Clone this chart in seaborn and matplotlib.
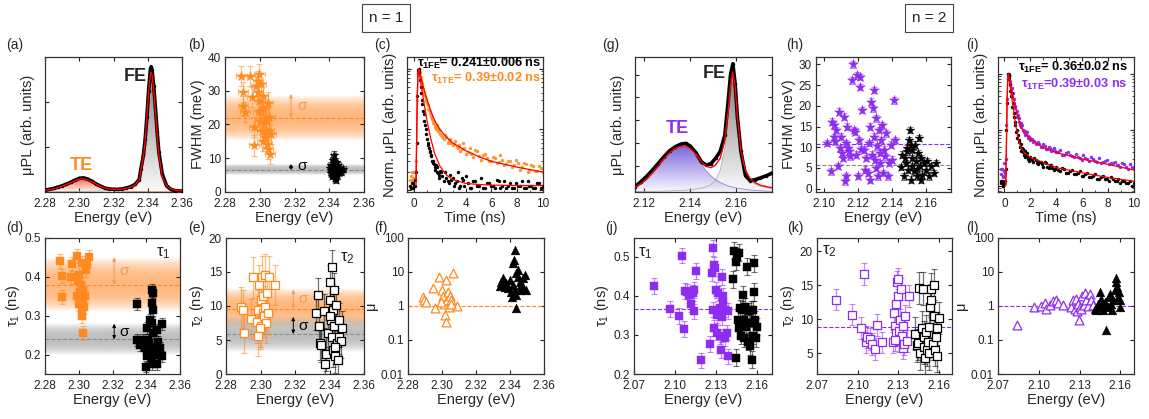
import numpy as np
import matplotlib
matplotlib.use('Agg')
import matplotlib.pyplot as plt
import seaborn as sns
from matplotlib import ticker
from matplotlib.colors import to_rgb

ORANGE = '#ff8a1f'
PURPLE = '#8e2cf2'

# ---------------- n = 1 ----------------
# (a) spectrum
e_a = [2.280, 2.2825, 2.285, 2.2875, 2.290, 2.2925, 2.295, 2.2975, 2.300, 2.3025,
       2.305, 2.3075, 2.310, 2.3125, 2.315, 2.3175, 2.320, 2.3225, 2.325, 2.3275,
       2.330, 2.3325, 2.335, 2.336, 2.3375, 2.3385, 2.3395, 2.3405, 2.3415, 2.342,
       2.3425, 2.3435, 2.3445, 2.3455, 2.3465, 2.3485, 2.351, 2.3535, 2.356, 2.360]
pl_a = [0.02, 0.03, 0.04, 0.055, 0.07, 0.09, 0.11, 0.135, 0.155, 0.16,
        0.145, 0.12, 0.09, 0.065, 0.045, 0.035, 0.03, 0.03, 0.035, 0.045,
        0.06, 0.085, 0.14, 0.26, 0.42, 0.6, 0.85, 1.15, 1.38, 1.42,
        1.38, 1.2, 0.95, 0.68, 0.45, 0.2, 0.07, 0.03, 0.015, 0.01]
fit_a = [0.018, 0.025, 0.035, 0.048, 0.065, 0.085, 0.105, 0.128, 0.145, 0.15,
         0.138, 0.113, 0.088, 0.063, 0.045, 0.034, 0.03, 0.03, 0.034, 0.042,
         0.055, 0.08, 0.13, 0.25, 0.4, 0.58, 0.85, 1.13, 1.33, 1.36,
         1.33, 1.15, 0.9, 0.64, 0.42, 0.17, 0.07, 0.035, 0.02, 0.014]
te_a = [0.012, 0.018, 0.026, 0.036, 0.05, 0.068, 0.09, 0.115, 0.133, 0.138,
        0.127, 0.103, 0.078, 0.055, 0.037, 0.025, 0.018, 0.014, 0.011, 0.009,
        0.008, 0.007, 0.006, 0.005, 0.005, 0.004, 0.004, 0.004, 0.004, 0.004,
        0.003, 0.003, 0.003, 0.003, 0.003, 0.003, 0.002, 0.002, 0.002, 0.002]
fe_a = [0.002, 0.002, 0.003, 0.003, 0.004, 0.004, 0.005, 0.006, 0.007, 0.008,
        0.009, 0.01, 0.011, 0.012, 0.014, 0.016, 0.018, 0.021, 0.025, 0.032,
        0.045, 0.07, 0.12, 0.24, 0.39, 0.57, 0.84, 1.12, 1.32, 1.35,
        1.32, 1.14, 0.89, 0.63, 0.41, 0.16, 0.06, 0.03, 0.017, 0.012]

# (b) FWHM
b_te_e = [2.2894, 2.2905, 2.2905, 2.2915, 2.2942, 2.2955, 2.2966, 2.2966, 2.2979, 2.2989,
          2.2998, 2.2998, 2.3002, 2.3008, 2.3013, 2.3017, 2.3021, 2.3026, 2.3032, 2.3036,
          2.3040, 2.3045, 2.3045, 2.3051, 2.3055, 2.3060, 2.3064, 2.2989, 2.3008, 2.3017, 2.2994]
b_te_w = [34.4, 29.5, 25.5, 23.6, 34.4, 28.2, 19.2, 13.8, 31.4, 29.5,
          34.9, 27.0, 21.1, 23.6, 18.2, 15.2, 25.0, 20.1, 16.2, 21.6,
          14.3, 26.5, 12.8, 18.2, 22.1, 11.3, 17.2, 32.9, 31.9, 28.5, 24.1]
b_fe_e = [2.3425, 2.342, 2.341, 2.343, 2.344, 2.3445, 2.342, 2.343, 2.3435, 2.341,
          2.345, 2.346, 2.3405, 2.3438, 2.3428, 2.3442, 2.3455, 2.3418, 2.3432, 2.3448,
          2.347, 2.348, 2.3412, 2.3436]
b_fe_w = [11.0, 9.5, 8.0, 7.5, 7.0, 6.0, 5.5, 5.0, 4.2, 6.5,
          8.0, 6.5, 7.0, 9.0, 6.2, 5.2, 5.8, 4.8, 8.5, 7.2,
          6.0, 6.8, 5.5, 3.6]
b_mean = [22.0, 6.5]
b_sigma = [6.8, 1.6]

# (c) decay n=1
t_grid = [-0.3, -0.2, -0.1, 0.0, 0.1, 0.2, 0.25, 0.3, 0.35, 0.4,
          0.45, 0.5, 0.6, 0.7, 0.8, 0.9, 1.0, 1.1, 1.2, 1.3,
          1.4, 1.5, 1.6, 1.7, 1.8, 1.9, 2.0, 2.2, 2.4, 2.6,
          2.8, 3.0, 3.2, 3.4, 3.6, 3.8, 4.0, 4.3, 4.6, 4.9,
          5.2, 5.5, 5.8, 6.1, 6.4, 6.7, 7.0, 7.3, 7.6, 7.9,
          8.2, 8.5, 8.8, 9.1, 9.4, 9.7, 10.0]
t_grid2 = [-0.25, -0.15, -0.05, 0.05, 0.15, 0.32, 0.38, 0.55, 0.65, 0.75,
           0.85, 0.95, 1.05, 1.15, 1.25, 1.35, 1.45, 1.55, 1.65, 1.75,
           1.85, 1.95, 2.1, 2.3, 2.5, 2.7, 2.9, 3.1, 3.3, 3.5,
           3.7, 3.9, 4.15, 4.45, 4.75, 5.05, 5.35, 5.65, 5.95, 6.25,
           6.55, 6.85, 7.15, 7.45, 7.75, 8.05, 8.35, 8.65, 8.95, 9.25,
           9.55, 9.85]
c_fe = [0.012, 0.011, 0.013, 0.012, 0.015, 0.06, 0.35, 0.85, 1.0, 0.85,
        0.65, 0.5, 0.3, 0.2, 0.14, 0.1, 0.07, 0.055, 0.045, 0.038,
        0.03, 0.028, 0.024, 0.026, 0.02, 0.018, 0.021, 0.017, 0.02, 0.014,
        0.018, 0.016, 0.013, 0.02, 0.012, 0.015, 0.017, 0.011, 0.014, 0.012,
        0.016, 0.011, 0.013, 0.012, 0.015, 0.011, 0.014, 0.012, 0.011, 0.013,
        0.012, 0.011, 0.014, 0.012, 0.011, 0.013, 0.012]
c_fe2 = [0.011, 0.013, 0.011, 0.012, 0.02, 0.95, 0.9, 0.4, 0.26, 0.18,
         0.12, 0.085, 0.06, 0.05, 0.042, 0.036, 0.03, 0.027, 0.022, 0.024,
         0.019, 0.016, 0.02, 0.014, 0.016, 0.013, 0.015, 0.012, 0.014, 0.011,
         0.016, 0.012, 0.013, 0.011, 0.014, 0.012, 0.011, 0.013, 0.012, 0.011,
         0.014, 0.012, 0.011, 0.013, 0.011, 0.012, 0.014, 0.011, 0.012, 0.011,
         0.013, 0.011]
c_te = [0.015, 0.02, 0.016, 0.015, 0.02, 0.06, 0.3, 0.8, 1.0, 0.95,
        0.85, 0.72, 0.58, 0.47, 0.38, 0.32, 0.27, 0.22, 0.2, 0.17,
        0.15, 0.13, 0.12, 0.1, 0.11, 0.09, 0.085, 0.075, 0.08, 0.06,
        0.07, 0.055, 0.065, 0.05, 0.045, 0.06, 0.04, 0.05, 0.035, 0.045,
        0.032, 0.04, 0.03, 0.035, 0.028, 0.038, 0.026, 0.03, 0.024, 0.032,
        0.022, 0.028, 0.02, 0.026, 0.021, 0.025, 0.02]
c_te2 = [0.017, 0.015, 0.02, 0.016, 0.03, 0.9, 0.98, 0.65, 0.52, 0.42,
         0.35, 0.29, 0.25, 0.21, 0.19, 0.16, 0.14, 0.13, 0.11, 0.12,
         0.095, 0.1, 0.08, 0.07, 0.075, 0.065, 0.06, 0.058, 0.052, 0.055,
         0.048, 0.05, 0.042, 0.04, 0.046, 0.036, 0.038, 0.034, 0.03, 0.034,
         0.029, 0.031, 0.027, 0.03, 0.026, 0.028, 0.024, 0.027, 0.022, 0.025,
         0.021, 0.023]
fit_t = [0.15, 0.25, 0.3, 0.35, 0.45, 0.6, 0.8, 1.0, 1.3, 1.6, 2.0, 2.5, 3.0, 4.0, 5.0, 6.0, 8.0, 10.0]
c_fit_fe = [0.012, 0.4, 0.85, 1.0, 0.72, 0.45, 0.25, 0.14, 0.07, 0.04, 0.025, 0.018, 0.015, 0.013, 0.0125, 0.0122, 0.012, 0.012]
c_fit_te = [0.015, 0.35, 0.8, 1.0, 0.85, 0.62, 0.43, 0.31, 0.2, 0.14, 0.1, 0.075, 0.06, 0.045, 0.036, 0.03, 0.024, 0.02]

# (d) tau1 n=1
d_te_e = [2.2889, 2.2903, 2.2899, 2.2952, 2.2958, 2.2988, 2.2994, 2.3002, 2.3007, 2.3017,
          2.3023, 2.3027, 2.3017, 2.3021, 2.3023, 2.3037, 2.3043, 2.3051, 2.3063, 2.2992,
          2.3004, 2.3013, 2.3031]
d_te_t = [0.44, 0.403, 0.348, 0.40, 0.433, 0.453, 0.39, 0.406, 0.359, 0.436,
          0.367, 0.337, 0.316, 0.299, 0.257, 0.352, 0.419, 0.431, 0.45, 0.352,
          0.331, 0.38, 0.324]
d_fe_e = [2.3347, 2.3432, 2.3442, 2.3432, 2.3442, 2.3423, 2.3432, 2.3492, 2.3403, 2.3413,
          2.3442, 2.3462, 2.3383, 2.3344, 2.3364, 2.3393, 2.3423, 2.3452, 2.3482, 2.3403,
          2.3432, 2.3462, 2.3492, 2.3399, 2.3432, 2.3462, 2.3419, 2.3446, 2.3472]
d_fe_t = [0.331, 0.367, 0.36, 0.333, 0.316, 0.29, 0.281, 0.28, 0.269, 0.239,
          0.256, 0.264, 0.239, 0.239, 0.226, 0.217, 0.213, 0.221, 0.217, 0.196,
          0.196, 0.2, 0.196, 0.17, 0.177, 0.177, 0.23, 0.209, 0.234]
d_mean = [0.38, 0.24]
d_sigma = [0.07, 0.04]

# (e) tau2 n=1
e_te_e = [2.2885, 2.2898, 2.2902, 2.2946, 2.2955, 2.2980, 2.2984, 2.2987, 2.2993, 2.3000,
          2.3004, 2.3009, 2.3013, 2.3017, 2.3021, 2.3025, 2.3027, 2.3031, 2.3040, 2.3046,
          2.3050, 2.3084, 2.2998]
e_te_t = [9.8, 9.4, 6.1, 8.1, 14.2, 7.6, 5.6, 9.4, 13.1, 10.9,
          7.0, 14.3, 8.9, 11.4, 8.5, 14.6, 9.9, 7.5, 11.9, 8.9,
          14.3, 13.1, 6.7]
e_fe_e = [2.3334, 2.3320, 2.3337, 2.3343, 2.3352, 2.3371, 2.3381, 2.3390, 2.3400, 2.3405,
          2.3409, 2.3413, 2.3415, 2.3419, 2.3423, 2.3428, 2.3432, 2.3438, 2.3441, 2.3447,
          2.3453, 2.3457, 2.3375, 2.3466, 2.3475, 2.3425, 2.3400, 2.3434]
e_fe_t = [11.6, 8.9, 7.0, 4.5, 4.3, 9.2, 3.0, 6.0, 13.6, 10.9,
          8.0, 15.8, 5.5, 9.4, 3.5, 7.0, 2.6, 10.2, 4.5, 2.1,
          8.0, 5.5, 1.4, 4.8, 6.7, 12.3, 8.5, 4.0]
e_mean = [9.6, 5.9]
e_sigma = [2.9, 2.6]

# (f) mu n=1
f_te_e = [2.2888, 2.2892, 2.2904, 2.2947, 2.2957, 2.2982, 2.3002, 2.3006, 2.3012, 2.3016,
          2.3022, 2.3025, 2.3029, 2.3035, 2.3041, 2.3045, 2.3051, 2.3065, 2.3088, 2.2996, 2.3055]
f_te_mu = [1.79, 1.5, 1.33, 3.45, 0.85, 7.3, 2.95, 1.97, 1.11, 0.53,
           0.34, 5.9, 1.55, 2.6, 0.95, 1.97, 1.5, 9.6, 0.99, 1.33, 1.11]
f_fe_e = [2.3427, 2.3423, 2.3418, 2.3437, 2.3437, 2.3412, 2.3349, 2.3339, 2.3359, 2.3378,
          2.3398, 2.3418, 2.3447, 2.3457, 2.3467, 2.3476, 2.3486, 2.3496, 2.3427, 2.3408,
          2.3388, 2.3369, 2.3457, 2.3437, 2.3476, 2.3447]
f_fe_mu = [45.0, 22.8, 18.2, 9.2, 0.85, 1.79, 5.2, 3.9, 6.6, 4.6,
           5.9, 4.1, 7.3, 5.2, 4.1, 6.6, 8.2, 2.95, 2.95, 2.6,
           3.3, 3.7, 2.95, 2.1, 3.7, 11.5]

# ---------------- n = 2 ----------------
# (g) spectrum
e_g = [2.116, 2.1185, 2.121, 2.1235, 2.126, 2.1285, 2.131, 2.1335, 2.136, 2.138,
       2.140, 2.1425, 2.145, 2.147, 2.149, 2.151, 2.153, 2.155, 2.1565, 2.1575,
       2.1585, 2.1595, 2.1605, 2.162, 2.164, 2.166, 2.168, 2.1705, 2.173, 2.1755]
pl_g = [0.04, 0.075, 0.115, 0.16, 0.21, 0.26, 0.305, 0.335, 0.355, 0.36,
        0.34, 0.29, 0.22, 0.2, 0.21, 0.25, 0.3, 0.42, 0.68, 0.87,
        0.95, 0.8, 0.55, 0.3, 0.12, 0.085, 0.09, 0.105, 0.12, 0.14]
fit_g = [0.035, 0.06, 0.095, 0.14, 0.19, 0.245, 0.29, 0.325, 0.34, 0.34,
         0.32, 0.28, 0.22, 0.19, 0.18, 0.2, 0.25, 0.38, 0.6, 0.8,
         0.89, 0.78, 0.55, 0.3, 0.16, 0.1, 0.07, 0.05, 0.04, 0.032]
te_g = [0.032, 0.055, 0.09, 0.135, 0.185, 0.24, 0.285, 0.32, 0.335, 0.333,
        0.31, 0.26, 0.2, 0.155, 0.12, 0.09, 0.07, 0.055, 0.045, 0.04,
        0.036, 0.032, 0.028, 0.024, 0.019, 0.015, 0.012, 0.009, 0.007, 0.005]
fe_g = [0.003, 0.004, 0.005, 0.005, 0.006, 0.007, 0.008, 0.01, 0.012, 0.014,
        0.017, 0.022, 0.03, 0.04, 0.055, 0.09, 0.16, 0.32, 0.55, 0.76,
        0.85, 0.75, 0.52, 0.28, 0.14, 0.085, 0.06, 0.042, 0.033, 0.027]

# (h) FWHM n=2
h_te_e = [2.1020, 2.1044, 2.1050, 2.1060, 2.1063, 2.1069, 2.1075, 2.1083, 2.1089, 2.1095,
          2.1103, 2.1108, 2.1114, 2.1122, 2.1128, 2.1132, 2.1134, 2.1138, 2.1144, 2.1148,
          2.1158, 2.1167, 2.1173, 2.1181, 2.1187, 2.1193, 2.1197, 2.1201, 2.1207, 2.1212,
          2.1216, 2.1220, 2.1228, 2.1236, 2.1246, 2.1252, 2.1260, 2.1266, 2.1272, 2.1275,
          2.1279, 2.1285, 2.1291, 2.1295, 2.1299, 2.1303, 2.1307, 2.1311, 2.1315, 2.1319,
          2.1324, 2.1330, 2.1334, 2.1340, 2.1346, 2.1350, 2.1354, 2.1364, 2.1370, 2.1378,
          2.1384, 2.1413, 2.1423, 2.1394, 2.1403]
h_te_w = [11.0, 4.2, 16.2, 15.4, 12.4, 11.4, 14.2, 5.5, 18.6, 9.8,
          12.6, 8.6, 7.4, 17.4, 1.8, 3.0, 11.0, 15.0, 9.8, 9.0,
          7.8, 26.2, 30.0, 14.2, 13.8, 8.2, 27.4, 3.1, 11.8, 27.0,
          24.6, 9.6, 19.0, 9.4, 4.6, 7.4, 3.8, 11.0, 15.0, 2.2,
          21.0, 8.2, 19.4, 23.8, 12.6, 7.0, 17.0, 5.0, 10.2, 3.0,
          14.2, 8.6, 6.2, 11.8, 15.4, 3.8, 9.4, 7.8, 13.4, 3.0,
          6.2, 21.3, 11.8, 10.6, 7.0]
h_fe_e = [2.1453, 2.1463, 2.1473, 2.1483, 2.1488, 2.1496, 2.1502, 2.1508, 2.1512, 2.1518,
          2.1523, 2.1531, 2.1537, 2.1543, 2.1551, 2.1555, 2.1561, 2.1567, 2.1575, 2.1581,
          2.1591, 2.1601, 2.1610, 2.1620, 2.1630, 2.1649, 2.1659, 2.1477, 2.1492, 2.1521,
          2.1547, 2.1571, 2.1516]
h_fe_w = [5.2, 8.2, 3.0, 6.2, 9.8, 4.6, 11.8, 14.2, 2.2, 7.4,
          9.4, 4.2, 10.6, 6.6, 3.0, 8.6, 12.2, 5.4, 7.4, 3.4,
          6.2, 4.6, 6.6, 3.0, 5.4, 3.8, 6.2, 7.4, 9.0, 5.4,
          4.8, 2.2, 10.6]
h_mean = [10.9, 5.8]

# (i) decay n=2
i_fe = [0.011, 0.012, 0.010, 0.011, 0.02, 0.3, 0.8, 1.0, 0.85, 0.65,
        0.5, 0.4, 0.25, 0.17, 0.12, 0.09, 0.07, 0.06, 0.05, 0.042,
        0.045, 0.036, 0.033, 0.038, 0.03, 0.028, 0.033, 0.026, 0.029, 0.024,
        0.027, 0.022, 0.025, 0.021, 0.023, 0.019, 0.022, 0.018, 0.02, 0.017,
        0.019, 0.016, 0.018, 0.015, 0.017, 0.014, 0.016, 0.013, 0.015, 0.013,
        0.014, 0.012, 0.013, 0.012, 0.011, 0.012, 0.011]
i_fe2 = [0.012, 0.01, 0.011, 0.012, 0.1, 0.95, 0.9, 0.45, 0.3, 0.2,
         0.14, 0.1, 0.08, 0.065, 0.055, 0.048, 0.04, 0.042, 0.035, 0.038,
         0.032, 0.03, 0.029, 0.031, 0.025, 0.027, 0.024, 0.026, 0.022, 0.023,
         0.021, 0.02, 0.019, 0.021, 0.017, 0.018, 0.016, 0.017, 0.015, 0.016,
         0.014, 0.015, 0.013, 0.014, 0.013, 0.012, 0.013, 0.012, 0.011, 0.012,
         0.011, 0.01]
i_te = [0.016, 0.02, 0.014, 0.018, 0.03, 0.35, 0.85, 1.0, 0.9, 0.75,
        0.62, 0.52, 0.38, 0.3, 0.24, 0.2, 0.17, 0.14, 0.12, 0.11,
        0.1, 0.09, 0.08, 0.085, 0.07, 0.075, 0.065, 0.06, 0.055, 0.06,
        0.05, 0.055, 0.045, 0.05, 0.042, 0.047, 0.04, 0.044, 0.036, 0.04,
        0.034, 0.037, 0.031, 0.035, 0.03, 0.033, 0.028, 0.031, 0.026, 0.029,
        0.025, 0.027, 0.023, 0.025, 0.022, 0.024, 0.021]
i_te2 = [0.02, 0.015, 0.025, 0.017, 0.12, 0.98, 0.95, 0.55, 0.45, 0.35,
         0.27, 0.22, 0.18, 0.16, 0.13, 0.12, 0.1, 0.095, 0.088, 0.09,
         0.078, 0.07, 0.068, 0.062, 0.058, 0.055, 0.05, 0.052, 0.045, 0.048,
         0.043, 0.041, 0.04, 0.036, 0.038, 0.035, 0.033, 0.032, 0.029, 0.031,
         0.028, 0.03, 0.027, 0.025, 0.028, 0.024, 0.025, 0.023, 0.022, 0.024,
         0.02, 0.022]
i_fit_t = [0.1, 0.2, 0.25, 0.3, 0.4, 0.5, 0.7, 0.9, 1.1, 1.3, 1.6, 2.0, 3.0, 4.0, 6.0, 8.0, 10.0]
i_fit_fe = [0.01, 0.3, 0.85, 1.0, 0.7, 0.48, 0.22, 0.11, 0.065, 0.045, 0.038, 0.032, 0.026, 0.021, 0.017, 0.014, 0.012]
i_fit_te = [0.01, 0.3, 0.85, 1.0, 0.8, 0.6, 0.36, 0.22, 0.15, 0.11, 0.085, 0.068, 0.048, 0.039, 0.03, 0.024, 0.019]

# (j) tau1 n=2
j_te_e = [2.0845, 2.0967, 2.1031, 2.1053, 2.1066, 2.1073, 2.1090, 2.1105, 2.1115, 2.1129,
          2.1139, 2.1142, 2.1154, 2.1190, 2.1257, 2.1269, 2.1276, 2.1281, 2.1286, 2.1294,
          2.1301, 2.1306, 2.1311, 2.1318, 2.1326, 2.1331, 2.1336, 2.1341, 2.1346, 2.1350,
          2.1355, 2.1363, 2.1368, 2.1380, 2.1387, 2.1385, 2.1286]
j_te_t = [0.425, 0.366, 0.349, 0.503, 0.315, 0.413, 0.411, 0.402, 0.378, 0.408,
          0.415, 0.36, 0.463, 0.235, 0.277, 0.458, 0.365, 0.523, 0.479, 0.47,
          0.415, 0.351, 0.306, 0.406, 0.37, 0.296, 0.262, 0.449, 0.345, 0.381,
          0.4, 0.292, 0.365, 0.306, 0.245, 0.362, 0.317]
j_fe_e = [2.1424, 2.1429, 2.1446, 2.1453, 2.1470, 2.1446, 2.1458, 2.1466, 2.1478, 2.1483,
          2.1490, 2.1498, 2.1502, 2.1507, 2.1515, 2.1520, 2.1527, 2.1532, 2.1539, 2.1547,
          2.1552, 2.1559, 2.1564, 2.1569, 2.1576, 2.1581, 2.1588, 2.1596, 2.1600, 2.1571]
j_fe_t = [0.442, 0.515, 0.487, 0.5, 0.51, 0.242, 0.338, 0.317, 0.368, 0.298,
          0.364, 0.402, 0.338, 0.292, 0.372, 0.321, 0.475, 0.283, 0.36, 0.33,
          0.271, 0.364, 0.237, 0.298, 0.41, 0.483, 0.338, 0.292, 0.321, 0.364]
j_mean = 0.367

# (k) tau2 n=2
k_te_e = [2.0839, 2.0962, 2.1025, 2.1047, 2.1062, 2.1072, 2.1091, 2.1108, 2.1128, 2.1147,
          2.1184, 2.1262, 2.1270, 2.1275, 2.1282, 2.1287, 2.1292, 2.1297, 2.1302, 2.1306,
          2.1311, 2.1316, 2.1323, 2.1330, 2.1335, 2.1340, 2.1347, 2.1355, 2.1365, 2.1379, 2.1275]
k_te_t = [12.9, 10.7, 8.7, 16.7, 6.6, 7.4, 7.1, 6.4, 5.7, 9.2,
          6.6, 6.6, 11.0, 9.0, 8.0, 12.3, 15.5, 13.5, 16.0, 8.3,
          6.8, 9.9, 14.5, 7.5, 5.8, 9.0, 6.4, 10.5, 6.8, 13.4, 7.0]
k_fe_e = [2.1429, 2.1438, 2.1450, 2.1458, 2.1465, 2.1477, 2.1482, 2.1490, 2.1495, 2.1502,
          2.1507, 2.1514, 2.1519, 2.1526, 2.1531, 2.1538, 2.1543, 2.1548, 2.1556, 2.1563,
          2.1568, 2.1575, 2.1580, 2.1587, 2.1592, 2.1600]
k_fe_t = [7.9, 6.2, 6.5, 14.6, 5.0, 8.8, 14.5, 5.9, 7.4, 4.3,
          8.2, 5.5, 6.7, 8.9, 5.0, 11.8, 12.8, 14.4, 6.4, 10.5,
          15.0, 5.5, 7.4, 8.7, 4.6, 10.2]
k_mean = 8.9

# (l) mu n=2
l_te_e = [2.0840, 2.0962, 2.1019, 2.1043, 2.1056, 2.1080, 2.1105, 2.1124, 2.1142, 2.1178,
          2.1240, 2.1252, 2.1265, 2.1277, 2.1281, 2.1289, 2.1296, 2.1301, 2.1313, 2.1321,
          2.1331, 2.1343, 2.1350, 2.1363, 2.1380, 2.1387, 2.1400]
l_te_mu = [0.27, 0.91, 0.99, 1.24, 0.81, 1.05, 1.42, 1.55, 1.24, 1.05,
           0.94, 1.48, 0.80, 1.66, 0.71, 1.18, 0.40, 0.94, 0.80, 1.95,
           1.05, 2.45, 1.48, 0.99, 2.25, 1.48, 1.05]
l_fe_e = [2.1411, 2.1424, 2.1436, 2.1448, 2.1456, 2.1465, 2.1473, 2.1485, 2.1497, 2.1510,
          2.1517, 2.1527, 2.1534, 2.1541, 2.1546, 2.1559, 2.1566, 2.1571, 2.1578, 2.1583,
          2.1590, 2.1595, 2.1600, 2.1443, 2.1478]
l_fe_mu = [0.80, 0.76, 1.18, 2.6, 1.66, 1.05, 0.76, 1.33, 0.20, 0.94,
           1.86, 2.33, 1.18, 0.76, 1.48, 2.9, 6.8, 5.2, 3.7, 1.86,
           2.6, 1.48, 0.94, 0.94, 1.05]

# ---------------- drawing ----------------
sns.set_theme(style='ticks')
plt.rcParams['font.family'] = ['Liberation Sans', 'DejaVu Sans']
plt.rcParams['mathtext.fontset'] = 'custom'
plt.rcParams['mathtext.rm'] = 'Liberation Sans'
plt.rcParams['mathtext.it'] = 'Liberation Sans:italic'
plt.rcParams['mathtext.bf'] = 'Liberation Sans:bold'

W, H = 1149, 419
fig = plt.figure(figsize=(W / 100, H / 100), dpi=100)


def mk(l, t, r, b):
    ax = fig.add_axes([l / W, 1 - b / H, (r - l) / W, (b - t) / H])
    ax.tick_params(direction='in', top=True, right=True, labelsize=8.5, length=3,
                   width=0.8, colors='#222222')
    ax.tick_params(axis='x', pad=4)
    ax.tick_params(axis='y', pad=3)
    ax.tick_params(which='minor', direction='in', top=True, right=True, length=1.8, width=0.6)
    for s in ax.spines.values():
        s.set_linewidth(0.9)
        s.set_color('#333333')
    return ax


def grad_fill(ax, x, y, color, a_top, a_bot=0.03):
    x = np.asarray(x)
    y = np.asarray(y)
    poly = ax.fill_between(x, 0, y, facecolor='none', edgecolor='none')
    rgba = np.ones((128, 1, 4))
    rgba[:, 0, :3] = to_rgb(color)
    rgba[:, 0, 3] = np.linspace(a_bot, a_top, 128)
    im = ax.imshow(rgba, extent=[x.min(), x.max(), 0, y.max()], origin='lower',
                   aspect='auto', zorder=1, interpolation='bilinear')
    im.set_clip_path(poly.get_paths()[0], transform=ax.transData)


def band(ax, x0, x1, mean, sig, color, amax):
    u = np.linspace(-1, 1, 128)
    rgba = np.ones((128, 1, 4))
    rgba[:, 0, :3] = to_rgb(color)
    rgba[:, 0, 3] = amax * (1 - np.abs(u) ** 2.5)
    ax.imshow(rgba, extent=[x0, x1, mean - sig, mean + sig], origin='lower',
              aspect='auto', zorder=0, interpolation='bilinear')
    ax.axhline(mean, color=color, ls='--', lw=0.8, zorder=1)


def pts(ax, x, y, color, marker, s, yerr=None, xerr=None, filled=True, ealpha=0.55):
    if yerr is not None or xerr is not None:
        ax.errorbar(x, y, yerr=yerr, xerr=xerr, fmt='none', ecolor=color, alpha=ealpha,
                    elinewidth=0.9, capsize=2.5, capthick=0.8, zorder=2)
    sns.scatterplot(x=x, y=y, ax=ax, marker=marker, s=s,
                    color=color if filled else 'white', edgecolor=color,
                    linewidth=0.9 if not filled else 0.3, zorder=3, legend=False)


def sigma_arrow(ax, x, y0, y1, color, tx, ty):
    ax.annotate('', xy=(x, y1), xytext=(x, y0),
                arrowprops=dict(arrowstyle='<|-|>', color=color, lw=0.7,
                                shrinkA=0, shrinkB=0, mutation_scale=5))
    ax.text(tx, ty, 'σ', color=color, fontsize=11, va='center', ha='left')


def energy_axis(ax, lo, hi, ticks):
    ax.set_xlim(lo, hi)
    ax.set_xticks(ticks)
    ax.xaxis.set_major_formatter(ticker.FormatStrFormatter('%.2f'))
    ax.set_xlabel('Energy (eV)', fontsize=10.5, labelpad=1)


def spectrum(ax, e, pl, fit, te, fe, te_col, te_alpha):
    grad_fill(ax, e, fe, '#6e6e6e', 0.85)
    grad_fill(ax, e, te, te_col, te_alpha)
    sns.lineplot(x=e, y=fe, ax=ax, color='#b0b0b0', lw=0.6, zorder=2)
    sns.lineplot(x=e, y=te, ax=ax, color=te_col, lw=0.6, alpha=0.6, zorder=2)
    sns.lineplot(x=e, y=pl, ax=ax, color='black', lw=2.6, marker='o', markersize=2.5,
                 markeredgewidth=0, zorder=3)
    sns.lineplot(x=e, y=fit, ax=ax, color='red', lw=1.0, zorder=4)
    ax.set_ylabel('μPL (arb. units)', fontsize=10.5, labelpad=4)


def decay(ax, t, fe, te, t2, fe2, te2, ft, ffe, fte, col, ylo, yhi, xlo):
    sns.scatterplot(x=t, y=te, ax=ax, color=col, s=6, linewidth=0, zorder=2, legend=False)
    sns.scatterplot(x=t2, y=te2, ax=ax, color=col, s=6, linewidth=0, zorder=2, legend=False)
    sns.scatterplot(x=t, y=fe, ax=ax, color='black', s=6, linewidth=0, zorder=3, legend=False)
    sns.scatterplot(x=t2, y=fe2, ax=ax, color='black', s=6, linewidth=0, zorder=3, legend=False)
    sns.lineplot(x=ft, y=ffe, ax=ax, color='red', lw=0.9, zorder=4)
    sns.lineplot(x=ft, y=fte, ax=ax, color='red', lw=0.9, zorder=4)
    ax.set_yscale('log')
    ax.set_ylim(ylo, yhi)
    ax.set_xlim(xlo, 10)
    ax.xaxis.set_major_locator(ticker.MultipleLocator(2))
    ax.xaxis.set_minor_locator(ticker.MultipleLocator(1))
    ax.yaxis.set_major_formatter(ticker.NullFormatter())
    ax.yaxis.set_minor_formatter(ticker.NullFormatter())
    ax.set_xlabel('Time (ns)', fontsize=10.5, labelpad=1)
    ax.set_ylabel('Norm. μPL (arb. units)', fontsize=10.5, labelpad=4)


def mu_axis(ax):
    ax.set_yscale('log')
    ax.set_ylim(0.01, 100)
    ax.set_yticks([0.01, 0.1, 1, 10, 100])
    ax.set_yticklabels(['0.01', '0.1', '1', '10', '100'])
    ax.yaxis.set_minor_locator(ticker.NullLocator())
    ax.set_ylabel('μ', fontsize=10.5, labelpad=2)


# (a)
ax = mk(45, 57, 182, 192)
spectrum(ax, e_a, pl_a, fit_a, te_a, fe_a, '#e8451c', 0.75)
ax.set_ylim(0, 1.53)
ax.set_yticks([0.51, 1.02])
ax.set_yticklabels([])
energy_axis(ax, 2.28, 2.36, [2.28, 2.30, 2.32, 2.34, 2.36])
ax.text(2.333, 1.31, 'FE', fontsize=13, fontweight='bold', ha='center', va='center')
ax.text(2.301, 0.3, 'TE', fontsize=13, fontweight='bold', color=ORANGE, ha='center', va='center')

# (b)
ax = mk(225, 57, 364, 192)
band(ax, 2.28, 2.36, b_mean[0], b_sigma[0], '#ff8a2a', 0.6)
band(ax, 2.28, 2.36, b_mean[1], b_sigma[1], '#8a8a8a', 0.55)
pts(ax, b_te_e, b_te_w, ORANGE, '*', 55, yerr=3.0, xerr=0.003)
pts(ax, b_fe_e, b_fe_w, 'black', '*', 45, yerr=1.0, xerr=0.0015)
sigma_arrow(ax, 2.318, 22, 29, '#f39a55', 2.3215, 25.5)
sigma_arrow(ax, 2.318, 6.5, 8.3, 'black', 2.3215, 7.6)
energy_axis(ax, 2.28, 2.36, [2.28, 2.30, 2.32, 2.34, 2.36])
ax.set_ylim(0, 40)
ax.set_yticks([0, 10, 20, 30, 40])
ax.set_ylabel('FWHM (meV)', fontsize=10.5, labelpad=2)

# (c)
ax = mk(407, 57, 543, 192)
decay(ax, t_grid, c_fe, c_te, t_grid2, c_fe2, c_te2, fit_t, c_fit_fe, c_fit_te,
      '#ff9633', 0.0094, 1.55, -0.55)
ax.text(0.985, 0.95, 'τ$_{\\mathbf{1FE}}$= 0.241±0.006 ns', transform=ax.transAxes,
        ha='right', va='center', fontsize=9.2, fontweight='bold', color='black')
ax.text(0.985, 0.84, 'τ$_{\\mathbf{1TE}}$= 0.39±0.02 ns', transform=ax.transAxes,
        ha='right', va='center', fontsize=9.2, fontweight='bold', color=ORANGE)

# (d)
ax = mk(45, 238, 180, 374)
band(ax, 2.28, 2.36, d_mean[0], d_sigma[0], '#ff8a2a', 0.6)
band(ax, 2.28, 2.36, d_mean[1], d_sigma[1], '#8a8a8a', 0.55)
pts(ax, d_te_e, d_te_t, ORANGE, 's', 28, yerr=0.018, xerr=0.001)
pts(ax, d_fe_e, d_fe_t, 'black', 's', 28, yerr=0.015, xerr=0.001)
sigma_arrow(ax, 2.321, 0.38, 0.45, '#f39a55', 2.324, 0.415)
sigma_arrow(ax, 2.321, 0.24, 0.28, 'black', 2.324, 0.26)
energy_axis(ax, 2.28, 2.36, [2.28, 2.30, 2.32, 2.34, 2.36])
ax.set_ylim(0.151, 0.5)
ax.set_yticks([0.2, 0.3, 0.4, 0.5])
ax.set_ylabel('τ$_1$ (ns)', fontsize=10.5, labelpad=2)
ax.text(0.88, 0.89, 'τ$_1$', transform=ax.transAxes, fontsize=12, ha='center', va='center')

# (e)
ax = mk(226, 238, 364, 374)
band(ax, 2.28, 2.36, e_mean[0], e_sigma[0], '#ff8a2a', 0.6)
band(ax, 2.28, 2.36, e_mean[1], e_sigma[1], '#8a8a8a', 0.55)
pts(ax, e_te_e, e_te_t, ORANGE, 's', 28, yerr=3.0, xerr=0.002, filled=False)
pts(ax, e_fe_e, e_fe_t, 'black', 's', 28, yerr=2.5, xerr=0.001, filled=False)
sigma_arrow(ax, 2.319, 9.6, 12.4, '#f39a55', 2.322, 11.0)
sigma_arrow(ax, 2.319, 5.9, 8.4, 'black', 2.322, 7.1)
energy_axis(ax, 2.28, 2.36, [2.28, 2.30, 2.32, 2.34, 2.36])
ax.set_ylim(0, 20)
ax.set_yticks([0, 5, 10, 15, 20])
ax.set_ylabel('τ$_2$ (ns)', fontsize=10.5, labelpad=2)
ax.text(0.88, 0.85, 'τ$_2$', transform=ax.transAxes, fontsize=12, ha='center', va='center')

# (f)
ax = mk(408, 238, 544, 374)
pts(ax, f_te_e, f_te_mu, ORANGE, '^', 40, filled=False)
pts(ax, f_fe_e, f_fe_mu, 'black', '^', 40)
ax.axhline(1, color=ORANGE, ls='--', lw=0.8, zorder=1)
mu_axis(ax)
energy_axis(ax, 2.28, 2.36, [2.28, 2.30, 2.32, 2.34, 2.36])

# (g)
ax = mk(635, 57, 772, 192)
spectrum(ax, e_g, pl_g, fit_g, te_g, fe_g, '#5a3fd6', 0.8)
ax.set_ylim(0, 1.0)
ax.set_yticks([0.19, 0.36, 0.53, 0.7, 0.87])
ax.set_yticklabels([])
energy_axis(ax, 2.116, 2.1755, [2.12, 2.14, 2.16])
ax.text(2.1506, 0.88, 'FE', fontsize=13, fontweight='bold', ha='center', va='center')
ax.text(2.1345, 0.47, 'TE', fontsize=13, fontweight='bold', color=PURPLE, ha='center', va='center')

# (h)
ax = mk(816, 57, 951, 192)
pts(ax, h_te_e, h_te_w, PURPLE, '*', 55, yerr=0.8, ealpha=0.5)
pts(ax, h_fe_e, h_fe_w, 'black', '*', 45, yerr=0.8, ealpha=0.5)
ax.axhline(h_mean[0], color=PURPLE, ls='--', lw=0.8, zorder=1)
ax.axhline(h_mean[1], color='#888888', ls='--', lw=0.8, zorder=1)
energy_axis(ax, 2.0955, 2.175, [2.10, 2.12, 2.14, 2.16])
ax.set_ylim(-0.8, 31.8)
ax.set_yticks([0, 5, 10, 15, 20, 25, 30])
ax.set_ylabel('FWHM (meV)', fontsize=10.5, labelpad=2)

# (i)
ax = mk(998, 57, 1134, 192)
decay(ax, t_grid, i_fe, i_te, t_grid2, i_fe2, i_te2, i_fit_t, i_fit_fe, i_fit_te,
      PURPLE, 0.0077, 2.0, -0.5)
ax.text(0.955, 0.92, 'τ$_{\\mathbf{1FE}}$= 0.36±0.02 ns', transform=ax.transAxes,
        ha='right', va='center', fontsize=9.2, fontweight='bold', color='black')
ax.text(0.955, 0.80, 'τ$_{\\mathbf{1TE}}$=0.39±0.03 ns', transform=ax.transAxes,
        ha='right', va='center', fontsize=9.2, fontweight='bold', color=PURPLE)

# (j)
ax = mk(634, 238, 772, 374)
pts(ax, j_te_e, j_te_t, PURPLE, 's', 28, yerr=0.02)
pts(ax, j_fe_e, j_fe_t, 'black', 's', 28, yerr=0.022)
ax.axhline(j_mean, color=PURPLE, ls='--', lw=0.8, zorder=1)
energy_axis(ax, 2.07, 2.171, [2.07, 2.10, 2.13, 2.16])
ax.set_ylim(0.2, 0.548)
ax.set_yticks([0.2, 0.3, 0.4, 0.5])
ax.set_ylabel('τ$_1$ (ns)', fontsize=10.5, labelpad=2)
ax.text(0.08, 0.885, 'τ$_1$', transform=ax.transAxes, fontsize=12, ha='center', va='center')

# (k)
ax = mk(817, 238, 952, 374)
pts(ax, k_te_e, k_te_t, PURPLE, 's', 28, yerr=1.6, filled=False)
pts(ax, k_fe_e, k_fe_t, 'black', 's', 28, yerr=2.4, filled=False)
ax.axhline(k_mean, color=PURPLE, ls='--', lw=0.8, zorder=1)
energy_axis(ax, 2.07, 2.17, [2.07, 2.10, 2.13, 2.16])
ax.set_ylim(1.97, 21.95)
ax.set_yticks([5, 10, 15, 20])
ax.set_ylabel('τ$_2$ (ns)', fontsize=10.5, labelpad=2)
ax.text(0.09, 0.9, 'τ$_2$', transform=ax.transAxes, fontsize=12, ha='center', va='center')

# (l)
ax = mk(998, 238, 1134, 374)
pts(ax, l_te_e, l_te_mu, PURPLE, '^', 40, filled=False)
pts(ax, l_fe_e, l_fe_mu, 'black', '^', 40)
ax.axhline(1, color=PURPLE, ls='--', lw=0.8, zorder=1)
mu_axis(ax)
energy_axis(ax, 2.07, 2.17, [2.07, 2.10, 2.13, 2.16])

# panel letters
letters = [('(a)', 15, 45), ('(b)', 197, 45), ('(c)', 382, 45), ('(d)', 15, 228),
           ('(e)', 197, 228), ('(f)', 381, 228), ('(g)', 611, 45), ('(h)', 795, 45),
           ('(i)', 972, 45), ('(j)', 611, 228), ('(k)', 795, 228), ('(l)', 972, 228)]
for lab, x, y in letters:
    fig.text(x / W, 1 - y / H, lab, fontsize=10, ha='center', va='center')

for lab, x in [('n = 1', 386), ('n = 2', 929)]:
    fig.text(x / W, 1 - 18 / H, lab, fontsize=11, ha='center', va='center',
             bbox=dict(boxstyle='square,pad=0.45', fc='white', ec='#444444', lw=0.8))

fig.savefig('out.png', dpi=100)
